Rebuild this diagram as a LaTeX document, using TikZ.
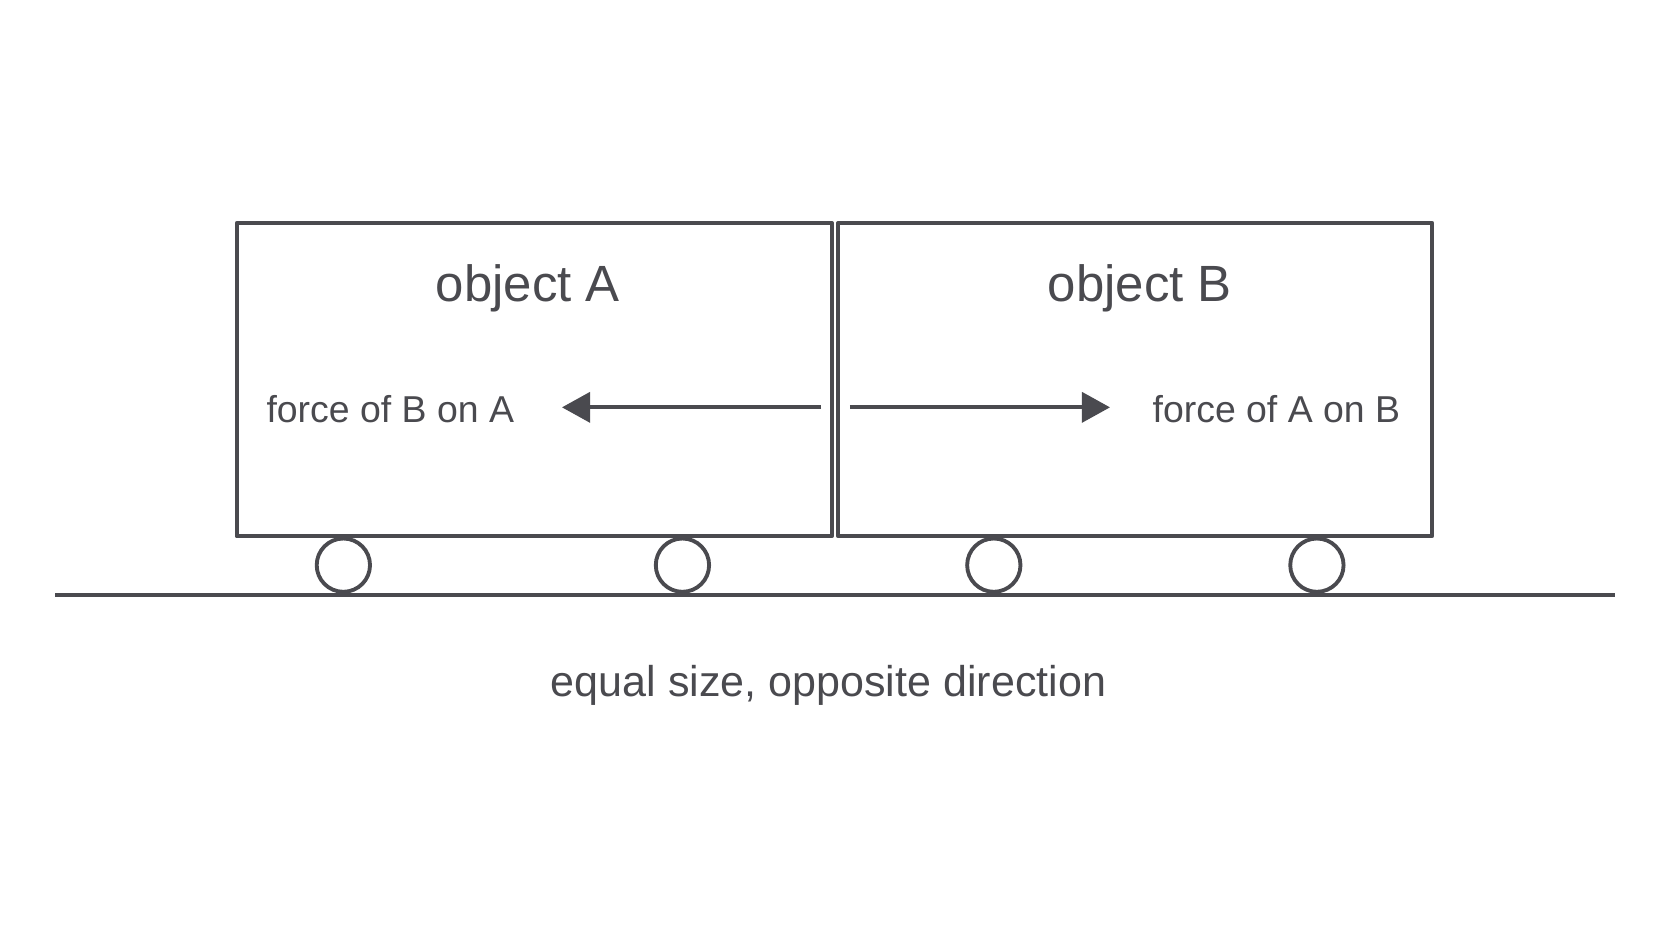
\documentclass[tikz,border=0pt]{standalone}
\usepackage{fontspec}
\setmainfont{Liberation Sans}
\usetikzlibrary{arrows.meta}
\definecolor{ink}{HTML}{4A4A4F}

\begin{document}
\begin{tikzpicture}[x=0.021326cm, y=-0.021326cm, ink, line width=2.2pt,
  every node/.style = {align=center, text=ink},
  cart/.style = {draw, line join=round},
  wheel/.style = {draw, circle, minimum size=50*0.021326cm, inner sep=0pt},
  push/.style = {-{Triangle[length=16pt, width=17pt]}, line width=2.4pt},
  title/.style = {font=\fontsize{29}{34}\selectfont},
  label/.style = {font=\fontsize{21.3}{26}\selectfont}]
\useasboundingbox (0,0) rectangle (1568,882.5);

% carts
\draw[cart] (222,209) rectangle (780,503);
\draw[cart] (786,209) rectangle (1343,503);
\node[title] (objA) at (495,270) {object A};
\node[title] (objB) at (1069,270) {object B};

% forces
\coordinate (fromA) at (770,382);
\coordinate (fromB) at (797,382);
\coordinate (tipA) at (527,382);
\coordinate (tipB) at (1041,382);
\draw[push] (fromA) -- (tipA);
\draw[push] (fromB) -- (tipB);
\node[label] (forceBA) at (366,384) {force of B on A};
\node[label] (forceAB) at (1197,384) {force of A on B};

% wheels and ground
\foreach \x [count=\i] in {322,640,932,1235}
  \node[wheel] (w\i) at (\x,530) {};
\draw (52,558) -- (1515,558);

\node[label, font=\fontsize{24.5}{29}\selectfont] (note) at (777,643) {equal size, opposite direction};
\end{tikzpicture}
\end{document}
